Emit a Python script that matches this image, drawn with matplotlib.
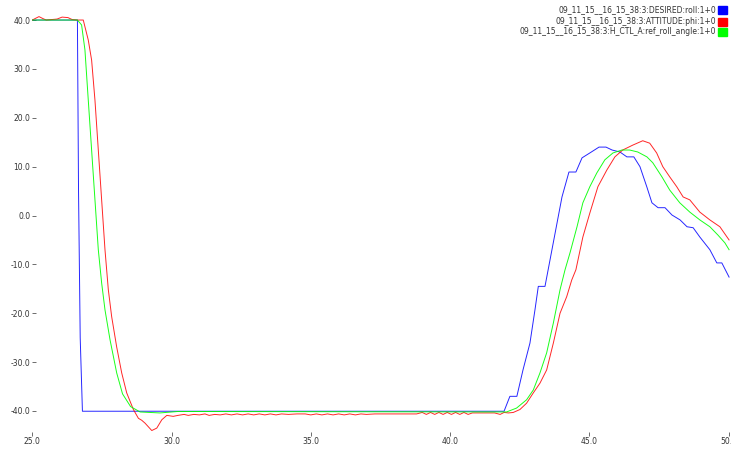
import matplotlib
matplotlib.use("Agg")
import matplotlib.pyplot as plt
from matplotlib.patches import Rectangle
from matplotlib.ticker import FormatStrFormatter

plt.rcParams['axes.unicode_minus'] = False

# desired roll setpoint
blue_x = [25.0, 26.62, 26.66, 26.72, 26.80, 41.94, 42.15, 42.40, 42.62, 42.87,
          43.05, 43.17, 43.41, 44.02, 44.27, 44.52, 44.74, 45.02, 45.35, 45.60,
          45.82, 46.10, 46.35, 46.60, 46.82, 47.07, 47.25, 47.47, 47.72, 47.97,
          48.26, 48.51, 48.73, 48.97, 49.33, 49.58, 49.76, 50.02]
blue_y = [40.0, 40.0, 5.0, -25.0, -40.05, -40.05, -37.0, -37.0, -31.6, -26.1,
          -19.3, -14.5, -14.5, 3.8, 8.9, 8.9, 11.8, 12.8, 14.0, 14.0,
          13.4, 13.0, 12.0, 12.0, 10.0, 5.8, 2.6, 1.6, 1.6, 0.1,
          -0.9, -2.3, -2.5, -4.4, -7.0, -9.7, -9.7, -12.6]

# measured attitude phi
red_x = [25.0, 25.1, 25.24, 25.38, 25.5, 25.89, 26.07, 26.28, 26.43, 26.6,
         26.83, 27.01, 27.13, 27.25, 27.37, 27.49, 27.61, 27.73, 27.85, 28.03,
         28.21, 28.39, 28.63, 28.81, 28.93, 29.05, 29.29, 29.47, 29.65, 29.83,
         30.06, 30.23, 30.45, 30.6, 30.8, 31.0, 31.2, 31.35, 31.55, 31.75,
         31.95, 32.15, 32.35, 32.55, 32.75, 32.95, 33.15, 33.35, 33.55, 33.75,
         33.95, 34.2, 34.5, 34.8, 35.0, 35.2, 35.4, 35.6, 35.8, 36.0,
         36.2, 36.4, 36.6, 36.8, 37.0, 37.3, 37.6, 37.9, 38.2, 38.5,
         38.8, 39.0, 39.15, 39.3, 39.45, 39.6, 39.75, 39.9, 40.05, 40.2,
         40.35, 40.5, 40.65, 40.8, 41.0, 41.3, 41.6, 41.8, 41.94, 42.1,
         42.27, 42.51, 42.75, 42.99, 43.23, 43.47, 43.71, 43.95, 44.19, 44.37,
         44.52, 44.77, 45.02, 45.31, 45.63, 45.92, 46.2, 46.56, 46.92, 47.17,
         47.42, 47.64, 47.89, 48.14, 48.37, 48.61, 48.97, 49.33, 49.69, 50.02]
red_y = [40.0, 40.3, 40.7, 40.3, 40.0, 40.2, 40.6, 40.5, 40.1, 40.0,
         40.0, 35.9, 31.8, 23.6, 13.4, 3.2, -7.0, -15.2, -20.7, -26.9,
         -32.2, -36.3, -39.7, -41.5, -41.9, -42.5, -44.0, -43.5, -41.8, -40.9,
         -41.1, -40.9, -40.7, -40.9, -40.7, -40.8, -40.6, -40.9, -40.7, -40.8,
         -40.6, -40.8, -40.6, -40.8, -40.6, -40.8, -40.6, -40.8, -40.6, -40.8,
         -40.6, -40.7, -40.6, -40.6, -40.8, -40.6, -40.8, -40.6, -40.8, -40.6,
         -40.8, -40.6, -40.8, -40.6, -40.7, -40.6, -40.6, -40.6, -40.6, -40.6,
         -40.6, -40.3, -40.7, -40.3, -40.7, -40.3, -40.7, -40.3, -40.7, -40.3,
         -40.7, -40.3, -40.7, -40.4, -40.4, -40.4, -40.4, -40.7, -40.3, -40.4,
         -40.3, -39.7, -38.4, -36.3, -34.3, -31.6, -26.1, -20.0, -16.6, -13.2,
         -11.1, -4.4, 0.5, 5.9, 9.3, 12.0, 13.4, 14.4, 15.3, 14.8,
         12.8, 10.0, 7.9, 5.9, 3.8, 3.2, 0.7, -0.9, -2.3, -5.0]

# reference roll angle from the controller
green_x = [25.0, 26.62, 26.77, 26.89, 27.01, 27.13, 27.25, 27.37, 27.49, 27.61,
           27.79, 28.03, 28.24, 28.53, 28.87, 29.58, 30.23, 42.03, 42.39, 42.75,
           42.99, 43.23, 43.47, 43.71, 43.95, 44.13, 44.31, 44.56, 44.77, 45.02,
           45.27, 45.56, 45.85, 46.17, 46.45, 46.74, 47.07, 47.28, 47.61, 47.89,
           48.25, 48.61, 48.97, 49.33, 49.62, 49.87, 50.02]
green_y = [40.0, 40.0, 39.0, 33.9, 23.6, 13.4, 3.2, -7.0, -13.8, -19.3,
           -25.4, -32.2, -36.5, -39.1, -40.2, -40.4, -40.1, -40.2, -39.4, -37.7,
           -35.7, -32.2, -28.1, -22.0, -15.2, -11.1, -7.6, -2.3, 2.6, 5.9,
           8.7, 11.4, 12.8, 13.4, 13.4, 13.0, 12.0, 10.8, 7.9, 5.2,
           2.6, 0.7, -0.9, -2.3, -4.0, -5.6, -7.0]

labels = ["09_11_15__16_15_38:3:DESIRED:roll:1+0",
          "09_11_15__16_15_38:3:ATTITUDE:phi:1+0",
          "09_11_15__16_15_38:3:H_CTL_A:ref_roll_angle:1+0"]
colors = ["#0000ff", "#ff0000", "#00ff00"]

W, H = 731, 449
fig = plt.figure(figsize=(W / 100, H / 100), dpi=100)
ax = fig.add_axes([32.3 / W, 17 / H, 699 / W, 432 / H])

ax.plot(blue_x, blue_y, color=colors[0], lw=0.7, alpha=0.85)
ax.plot(red_x, red_y, color=colors[1], lw=0.7, alpha=0.85)
ax.plot(green_x, green_y, color=colors[2], lw=0.7, alpha=0.9)

ax.set_xlim(25, 50.1)
ax.set_ylim(-44.3, 44.1)
ax.set_xticks([25, 30, 35, 40, 45, 50])
ax.set_yticks([-40, -30, -20, -10, 0, 10, 20, 30, 40])
ax.xaxis.set_major_formatter(FormatStrFormatter('%.1f'))
ax.yaxis.set_major_formatter(FormatStrFormatter('%.1f'))
for s in ax.spines.values():
    s.set_visible(False)
ax.tick_params(axis='y', direction='in', length=3, width=0.6, pad=1.5,
               labelsize=5.5, colors='#555555', labelcolor='#333333')
ax.tick_params(axis='x', direction='out', length=3, width=0.6, pad=0.5,
               labelsize=5.5, colors='#555555', labelcolor='#333333')

# legend in the top right corner: label then a colour box
rows = [10, 22, 32]
for lab, col, yc in zip(labels, colors, rows):
    fig.text(716 / W, 1 - yc / H, lab, ha='right', va='center',
             fontsize=5.5, color='#333333')
    fig.patches.append(Rectangle((718 / W, 1 - (yc + 4) / H), 9 / W, 8 / H,
                                 transform=fig.transFigure, color=col))

fig.savefig("out.png", dpi=100)
